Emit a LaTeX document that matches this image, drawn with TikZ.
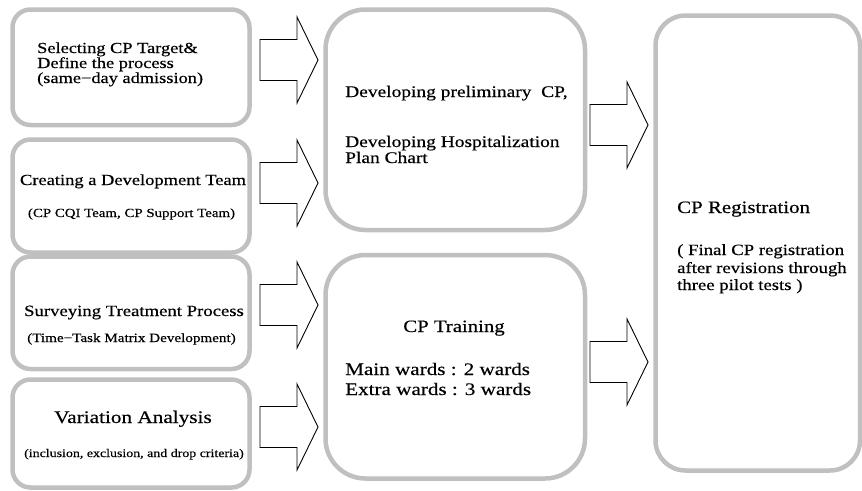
\documentclass[tikz,border=0pt]{standalone}
\usepackage{fontspec}
\setmainfont{Liberation Serif}[FakeStretch=1.2,FakeBold=0.4]
\definecolor{boxgray}{RGB}{192,192,192}
\newcommand\fsz[1]{\fontsize{#1}{#1}\selectfont}
\tikzset{
  box/.style={draw=boxgray, line width=4.5pt, rounded corners=#1, inner sep=0pt, outer sep=0pt, fill=white},
  box/.default=18pt,
  txt/.style={inner sep=0pt, anchor=base west},
  ctr/.style={inner sep=0pt, anchor=base},
  blockarrow/.pic={\draw[black, line width=0.9pt, fill=white, line join=miter]
     (0,-20.5) -- (37,-20.5) -- (37,-43) -- (58,0) -- (37,43) -- (37,20.5) -- (0,20.5) -- cycle;}
}
\begin{document}
\begin{tikzpicture}[x=1pt,y=-1pt]
\useasboundingbox (0,0) rectangle (862,490);
% left column boxes
\node[box, minimum width=237pt, minimum height=115.5pt] (b1) at (131,67.25) {};
\node[box, minimum width=237pt, minimum height=113pt] (b2) at (131,196) {};
\node[box, minimum width=237pt, minimum height=112.5pt] (b3) at (131,312.75) {};
\node[box, minimum width=237pt, minimum height=108pt] (b4) at (131,433.5) {};
% middle boxes
\node[box=40pt, minimum width=259.5pt, minimum height=220.5pt] (dev) at (455.25,119.75) {};
\node[box=40pt, minimum width=259.5pt, minimum height=223.5pt] (train) at (455.25,366.75) {};
% right box
\node[box=30pt, minimum width=204.5pt, minimum height=455pt] (reg) at (757.75,243) {};
% arrows
\pic (a1) at (260,60) {blockarrow};
\pic (a2) at (260,183) {blockarrow};
\pic (a3) at (260,305) {blockarrow};
\pic (a4) at (260,427) {blockarrow};
\pic (a5) at (590,125) {blockarrow};
\pic (a6) at (590,362) {blockarrow};
% texts box 1
\node[txt] (t1a) at (37,53) {\fsz{15.3}Selecting CP Target\&};
\node[txt] (t1b) at (37,68) {\fsz{15.3}Define the process};
\node[txt] (t1c) at (37,83) {\fsz{15.3}(same−day admission)};
% box 2
\node[ctr] (t2a) at (133,185) {\fsz{15.4}Creating a Development Team};
\node[ctr] (t2b) at (131.5,217) {\fsz{12.4}(CP CQI Team, CP Support Team)};
% box 3
\node[ctr] (t3a) at (134,316) {\fsz{15.6}Surveying Treatment Process};
\node[ctr] (t3b) at (131.5,342) {\fsz{12.6}(Time−Task Matrix Development)};
% box 4
\node[ctr] (t4a) at (133,423) {\fsz{17.7}Variation Analysis};
\node[ctr] (t4b) at (134,457) {\fsz{11.6}(inclusion, exclusion, and drop criteria)};
% dev box
\node[txt] (td1) at (345,97) {\fsz{16.2}Developing preliminary\ \ CP,};
\node[txt] (td2) at (345,147) {\fsz{16.2}Developing Hospitalization};
\node[txt] (td3) at (345,163) {\fsz{16.2}Plan Chart};
% training box
\node[ctr] (tt1) at (454,332) {\fsz{17.3}CP Training};
\node[txt] (tt2) at (345,375) {\fsz{17.6}Main wards : 2 wards};
\node[txt] (tt3) at (345,395) {\fsz{17.6}Extra wards : 3 wards};
% registration box
\node[txt] (tr1) at (677,213) {\fsz{17.4}CP Registration};
\node[txt] (tr2) at (677,255) {\fsz{15.6}( Final CP registration};
\node[txt] (tr3) at (677,273) {\fsz{15.6}after revisions through};
\node[txt] (tr4) at (677,290) {\fsz{15.6}three pilot tests )};
\end{tikzpicture}
\end{document}
